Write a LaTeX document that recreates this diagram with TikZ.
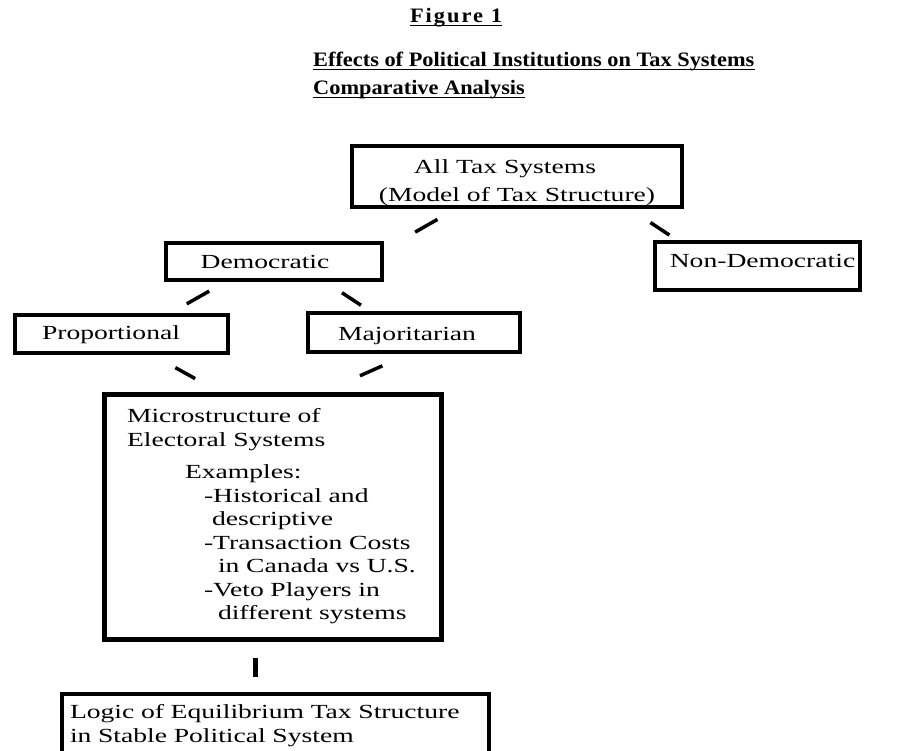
\documentclass[tikz,border=0pt]{standalone}
\usepackage{fontspec}
\setmainfont{Liberation Serif}[FakeStretch=1.38]
\newfontfamily\headfont{Liberation Serif}[FakeStretch=1.09]
\usetikzlibrary{positioning,calc}

\begin{document}
\begin{tikzpicture}[x=1pt,y=-1pt,
 box/.style={draw,line width=4pt,inner sep=0pt,font=\fontsize{20}{23.5}\selectfont},
 head/.style={font=\headfont\bfseries\fontsize{20.5}{28}\selectfont,inner sep=0pt},
 uline/.style={line width=1.5pt},
 link/.style={line width=3.5pt}]
\useasboundingbox (0,0) rectangle (901,751);
% titles
\node[head,anchor=base,font=\headfont\bfseries\fontsize{20.5}{28}\selectfont\addfontfeature{LetterSpace=10}] (fig) at (456,23) {Figure 1};
\node[head,anchor=base west] (title) at (313,67) {Effects of Political Institutions on Tax Systems};
\node[head,anchor=base west] (subtitle) at (313,95) {Comparative Analysis};
\foreach \t in {fig,title,subtitle}
  \draw[uline] ([yshift=-2.5pt]\t.base west) -- ([yshift=-2.5pt]\t.base east);
% boxes
\node[box,minimum width=330pt,minimum height=61pt,align=center,text height=54pt] (alltax) at (517,176.5) {All Tax Systems\hspace*{24pt}\\[4pt](Model of Tax Structure)};
\node[box,minimum width=216pt,minimum height=37pt] (dem) at (274,261.5) {Democratic\hspace*{18pt}};
\node[box,minimum width=205pt,minimum height=48pt,text depth=10pt] (nondem) at (757.5,266) {\hspace*{10pt}Non-Democratic};
\node[box,minimum width=213pt,minimum height=38pt,text height=16pt] (prop) at (121.5,334) {Proportional\hspace*{21pt}};
\node[box,minimum width=212pt,minimum height=39pt,text height=21pt] (maj) at (414,332.5) {Majoritarian\hspace*{14pt}};
\node[box,line width=5pt,minimum width=337pt,minimum height=245pt,text width=295pt,inner xsep=21pt,align=left] (micro) at (272.5,516.5)
 {\hspace*{2pt}Microstructure of\\\hspace*{2pt}Electoral Systems\\[9pt]
 \hspace*{60pt}Examples:\\
 \hspace*{79pt}-Historical and\\
 \hspace*{87pt}descriptive\\
 \hspace*{79pt}-Transaction Costs\\
 \hspace*{93pt}in Canada vs U.S.\\
 \hspace*{79pt}-Veto Players in\\
 \hspace*{93pt}different systems};
\node[box,anchor=north west,minimum width=427pt,text width=411pt,inner xsep=8pt,inner ysep=10.7pt,text height=14pt,text depth=70pt,align=left] (logic) at (60,692)
 {Logic of Equilibrium Tax Structure\\in Stable Political System};
% links
\draw[link,shorten <=20.9pt,shorten >=17.9pt] ($(alltax.south west)+(105.6,0)$) -- ($(dem.north west)+(235.6,0)$);
\draw[link,shorten <=24.5pt,shorten >=8.9pt] ($(alltax.south west)+(280,0)$) -- ($(nondem.north west)+(23.8,0)$);
\draw[link,shorten <=18.5pt,shorten >=18.5pt] ($(dem.south west)+(61.3,0)$) -- ($(prop.north west)+(157.7,0)$);
\draw[link,shorten <=19.5pt,shorten >=10.5pt] ($(dem.south west)+(161.7,0)$) -- ($(maj.north west)+(63.7,0)$);
\draw[link,shorten <=26.1pt,shorten >=26.7pt] ($(prop.south west)+(139.5,0)$) -- ($(micro.north west)+(117,0)$);
\draw[link,shorten <=29.1pt,shorten >=38.7pt] ($(maj.south west)+(103,0)$) -- ($(micro.north west)+(223.1,0)$);
\draw[link,line width=5pt,shorten <=16pt,shorten >=15pt] ($(micro.south west)+(154,0)$) coordinate (stem) -- (stem |- logic.north);
\end{tikzpicture}
\end{document}
